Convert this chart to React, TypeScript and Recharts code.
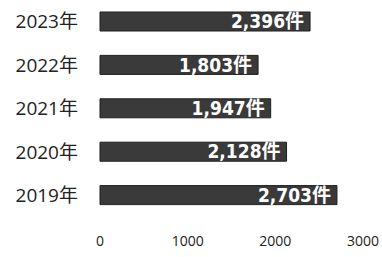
import { BarChart, Bar, XAxis, YAxis, LabelList } from 'recharts';

// 年別件数（上から2023年→2019年）
const years = ['2023年', '2022年', '2021年', '2020年', '2019年'];
const counts = [2396, 1803, 1947, 2128, 2703];
const xTicks = [0, 1000, 2000, 3000];

const data = years.map((year, i) => ({ year, count: counts[i] }));

export default function App() {
    return (
        <div style={{ position: 'fixed', left: 0, top: 0, width: 382, height: 257, background: '#fff' }}>
            <BarChart
                width={382}
                height={257}
                data={data}
                layout="vertical"
                margin={{ top: 0, right: 19, bottom: 0, left: 0 }}
                barCategoryGap={12}
            >
                <XAxis
                    type="number"
                    domain={[0, 3000]}
                    ticks={xTicks}
                    axisLine={false}
                    tickLine={false}
                    height={40}
                    tickMargin={13}
                    tick={{ fill: '#222', fontSize: 14, fontFamily: 'Open Sans, sans-serif' }}
                    interval={0}
                />
                <YAxis
                    type="category"
                    dataKey="year"
                    width={100}
                    axisLine={false}
                    tickLine={false}
                    tickMargin={16}
                    tick={{ fill: '#222', fontSize: 19, fontFamily: 'Open Sans, "Noto Sans CJK JP", sans-serif' }}
                />
                <Bar dataKey="count" fill="#3a3a3a" stroke="#1e1e1e" strokeWidth={1} barSize={19} isAnimationActive={false}>
                    <LabelList
                        dataKey="count"
                        position="insideRight"
                        offset={6}
                        formatter={(v: any) => `${Number(v).toLocaleString('en-US')}件`}
                        style={{ fill: '#fff', fontSize: 19, fontWeight: 'bold', fontFamily: '"DejaVu Sans Condensed", "Noto Sans CJK JP", sans-serif' }}
                    />
                </Bar>
            </BarChart>
        </div>
    );
}
